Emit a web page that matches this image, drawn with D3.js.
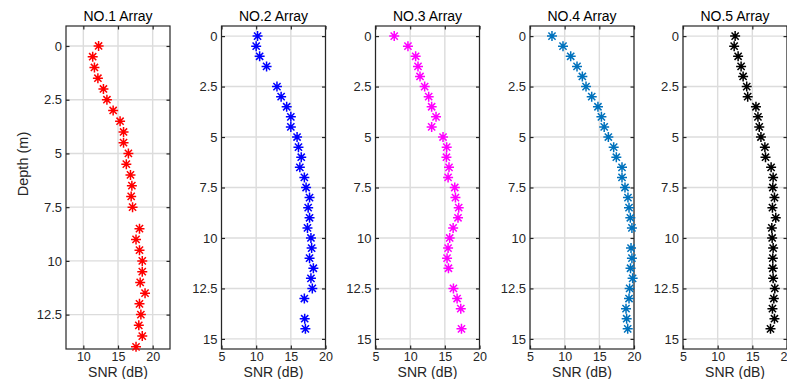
<!DOCTYPE html>
<html>
<head>
<meta charset="utf-8">
<script src="https://cdn.jsdelivr.net/npm/d3@7"></script>
<style>
  html, body { margin: 0; padding: 0; background: #fff; }
  svg { display: block; font-family: "Liberation Sans", Arial, sans-serif; }
</style>
</head>
<body>
<svg id="chart" width="787" height="379"></svg>
<script>
// SNR (dB) measured at each depth (m) for five arrays; null = no reading
const depths = [0,0.5,1,1.5,2,2.5,3,3.5,4,4.5,5,5.5,6,6.5,7,7.5,8,8.5,9,9.5,10,10.5,11,11.5,12,12.5,13,13.5,14,14.5];

const snrArray1 = [12.2,11.35,11.6,12.1,12.9,13.4,14.3,15.3,15.8,15.8,16.5,16.2,16.8,17.0,16.9,17.1,null,18.1,17.6,18.1,18.5,18.5,18.2,18.9,18.1,18.3,18.0,18.5,17.6,null];
const snrArray2 = [10.2,10.0,10.5,11.5,null,13.0,13.6,14.4,15.0,15.0,15.9,16.1,16.5,16.3,16.95,17.2,17.7,17.5,17.7,17.4,17.9,18.0,17.7,18.25,17.9,18.1,16.95,null,17.0,17.1];
const snrArray3 = [7.7,9.68,10.79,11.13,11.42,12.09,12.67,13.1,13.73,13.1,14.74,15.27,15.23,15.6,15.47,16.43,16.53,17.0,16.9,16.2,15.7,15.47,15.32,15.52,null,16.24,16.77,17.3,null,17.4];
const snrArray4 = [8.17,9.76,10.87,11.78,12.55,13.08,13.9,14.8,15.3,15.7,16.3,17.07,17.45,18.27,18.27,18.7,19.13,19.28,19.47,19.7,null,19.57,19.7,19.5,19.8,19.37,19.28,18.85,18.94,19.09];
const snrArray5 = [12.52,12.38,12.95,13.38,13.67,14.19,14.33,15.52,15.81,16.0,16.24,16.81,16.9,17.71,18.0,17.95,18.19,17.9,18.38,17.81,17.86,18.0,17.95,17.95,18.0,18.24,18.1,17.9,18.19,17.62];

const panelTitles = ["NO.1 Array","NO.2 Array","NO.3 Array","NO.4 Array","NO.5 Array"];
const panelSeries = [snrArray1, snrArray2, snrArray3, snrArray4, snrArray5];
const panelColors = ["#ff0000","#0000ff","#ff00ff","#0072bd","#000000"];

const xDomains = [[7.5,22.5],[5,20],[5,20],[5,20],[5,20]];
const yDomains = [[-0.93,14.1],[-0.5,15.5],[-0.5,15.5],[-0.5,15.5],[-0.5,15.5]];
const xTickSets = [[10,15,20],[5,10,15,20],[5,10,15,20],[5,10,15,20],[5,10,15,20]];
const yTickSets = [[0,2.5,5,7.5,10,12.5],[0,2.5,5,7.5,10,12.5,15],[0,2.5,5,7.5,10,12.5,15],[0,2.5,5,7.5,10,12.5,15],[0,2.5,5,7.5,10,12.5,15]];

const xLabel = "SNR (dB)";
const yLabel = "Depth (m)";

const svg = d3.select("#chart");
const panelLefts = [66, 221.5, 375.5, 530, 683];
const panelW = 104, plotTop = 26, plotBottom = 349;

// eight-armed asterisk marker
const r = 5, d = r * 0.72;
const starPath = `M${-r},0L${r},0M0,${-r}L0,${r}M${-d},${-d}L${d},${d}M${-d},${d}L${d},${-d}`;

panelSeries.forEach((series, i) => {
  const x = d3.scaleLinear().domain(xDomains[i]).range([panelLefts[i], panelLefts[i] + panelW]);
  const y = d3.scaleLinear().domain(yDomains[i]).range([plotTop, plotBottom]);
  const g = svg.append("g");

  // grid
  g.append("g").selectAll("line").data(xTickSets[i]).join("line")
    .attr("x1", v => x(v)).attr("x2", v => x(v)).attr("y1", plotTop).attr("y2", plotBottom)
    .attr("stroke", "#dcdcdc").attr("stroke-width", 1.4);
  g.append("g").selectAll("line").data(yTickSets[i]).join("line")
    .attr("y1", v => y(v)).attr("y2", v => y(v)).attr("x1", x.range()[0]).attr("x2", x.range()[1])
    .attr("stroke", "#dcdcdc").attr("stroke-width", 1.4);

  // axes with inward ticks on all four sides
  const styleAxis = (sel, size) => {
    sel.select(".domain").remove();
    sel.selectAll(".tick line").attr("stroke", "#262626").attr("stroke-width", 1.2);
    sel.selectAll(".tick text").attr("fill", "#262626").style("font-size", size)
      .style("font-family", "'Liberation Sans', Arial, sans-serif");
  };
  g.append("g").attr("transform", `translate(0,${plotBottom})`)
    .call(d3.axisBottom(x).tickValues(xTickSets[i]).tickFormat(d3.format("")).tickSizeInner(-3.5).tickPadding(3.5))
    .call(styleAxis, "12.5px");
  g.append("g").attr("transform", `translate(0,${plotTop})`)
    .call(d3.axisTop(x).tickValues(xTickSets[i]).tickFormat("").tickSizeInner(-3.5))
    .call(styleAxis, "12.5px");
  g.append("g").attr("transform", `translate(${x.range()[0]},0)`)
    .call(d3.axisLeft(y).tickValues(yTickSets[i]).tickFormat(d3.format("")).tickSizeInner(-3.5).tickPadding(4))
    .call(styleAxis, "13px");
  g.append("g").attr("transform", `translate(${x.range()[1]},0)`)
    .call(d3.axisRight(y).tickValues(yTickSets[i]).tickFormat("").tickSizeInner(-3.5))
    .call(styleAxis, "13px");

  // box
  g.append("rect").attr("x", x.range()[0]).attr("y", plotTop)
    .attr("width", panelW).attr("height", plotBottom - plotTop)
    .attr("fill", "none").attr("stroke", "#262626").attr("stroke-width", 1.2);

  // markers
  g.append("g").selectAll("path")
    .data(depths.map((dep, k) => ({dep, v: series[k]})).filter(p => p.v != null))
    .join("path")
    .attr("d", starPath)
    .attr("transform", p => `translate(${x(p.v)},${y(p.dep)})`)
    .attr("stroke", panelColors[i]).attr("stroke-width", 1.5).attr("fill", "none");

  // title and x label
  g.append("text").attr("x", panelLefts[i] + panelW / 2).attr("y", 21)
    .attr("text-anchor", "middle").attr("fill", "#000").style("font-size", "14px")
    .text(panelTitles[i]);
  g.append("text").attr("x", panelLefts[i] + panelW / 2).attr("y", 377)
    .attr("text-anchor", "middle").attr("fill", "#262626").style("font-size", "14px")
    .text(xLabel);
});

svg.append("text")
  .attr("transform", `translate(28,164) rotate(-90)`)
  .attr("text-anchor", "middle").attr("fill", "#262626").style("font-size", "14.5px")
  .text(yLabel);
</script>
</body>
</html>
